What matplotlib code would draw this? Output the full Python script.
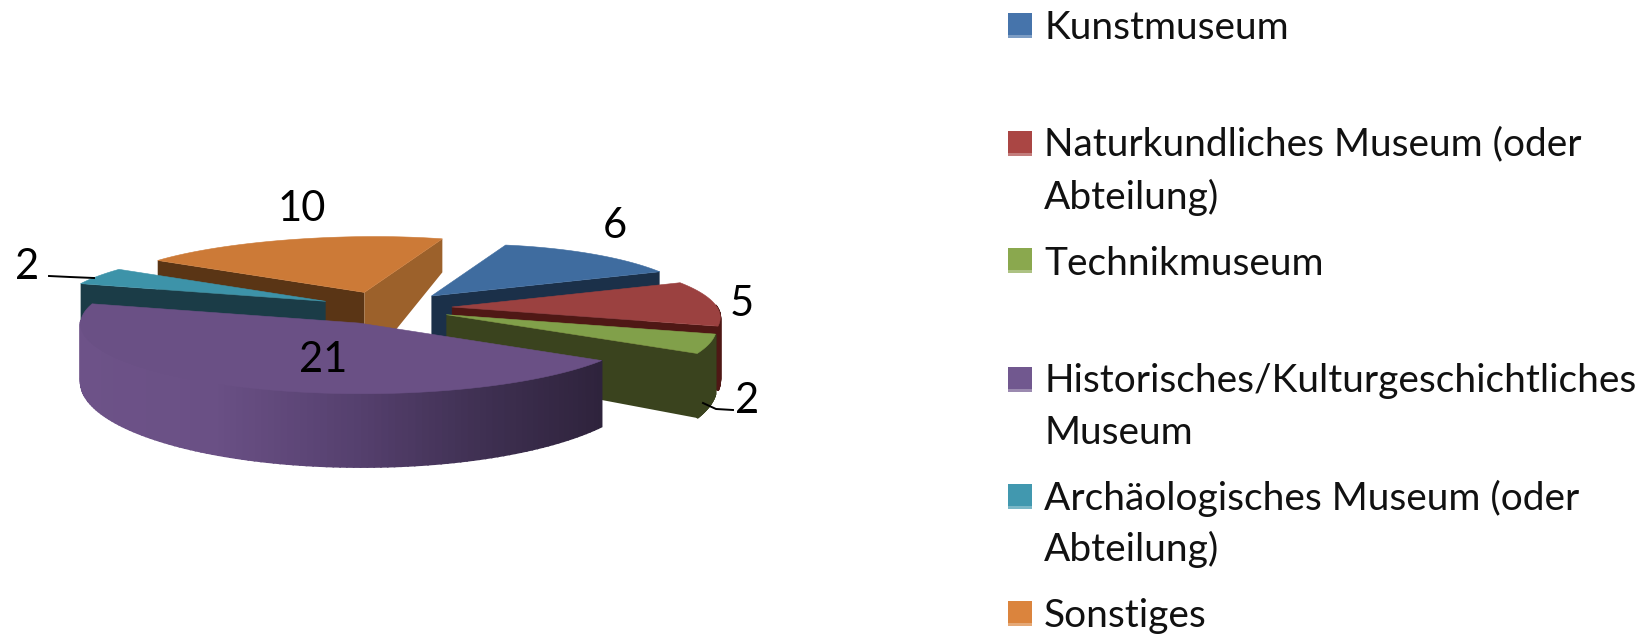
import numpy as np
import matplotlib
matplotlib.use("Agg")
import matplotlib.pyplot as plt
from matplotlib.colors import LinearSegmentedColormap
from matplotlib.patches import Polygon, Rectangle

plt.rcParams['font.family'] = ['Lato', 'DejaVu Sans']

categories = ["Kunstmuseum", "Naturkundliches Museum (oder\nAbteilung)", "Technikmuseum",
              "Historisches/Kulturgeschichtliches\nMuseum", "Archäologisches Museum (oder\nAbteilung)", "Sonstiges"]
values = [6, 5, 2, 21, 2, 10]

top_colors = ["#3f6c9f", "#9b4140", "#81a04a", "#6a5085", "#3d93a9", "#cc7a37"]
swatch_colors = ["#4674ab", "#aa4644", "#8aa84e", "#71588f", "#4198af", "#db843d"]
side_colors = ["#1b3049", "#4f1815", "#3a431e", "#2c2139", "#1b3c47", "#5a3515"]
end_face_colors = ["#1b3049", "#4f1815", "#3a431e", "#2c2139", "#1b3c47", "#9c612b"]

# pie geometry in pixels
W, H = 1643, 635
CX, CY = 386, 308
SQUASH = 0.25
EXPLODE = 66
START = 20
# perspective fake: each slice has its own radius at both ends and its own depth slope
radius_start = [217, 248, 280, 285, 255, 243]
radius_end = [248, 277, 295, 278, 243, 228]
radius_sag = [0, 0, 0, 0, 0, 12]
depth0 = [40, 46, 40, 40, 50, 36]
depth1 = [0.22, 0.22, 0.22, 0.22, 0.22, 0.8]
draw_order = [5, 0, 4, 1, 2, 3]

label_x = [615, 742, 747, 323, 27, 302]
label_y = [226, 304, 401, 360, 267, 209]

legend_swatch_y = [13, 131, 248, 367, 484, 601]
legend_line_y = [[28], [144, 197], [264], [381, 433], [498, 549], [616]]

fig = plt.figure(figsize=(W / 100, H / 100), dpi=100)
ax = fig.add_axes([0, 0, 1, 1])
ax.set_xlim(0, W)
ax.set_ylim(H, 0)
ax.axis("off")

purple_cmap = LinearSegmentedColormap.from_list("p", ["#6d5288", "#6a5085", "#574170", "#3f3052", "#2c2139"])

edges = START + np.cumsum([0] + values) * 360 / sum(values)


def wedge_point(i, t, apex, a0, a1):
    u = (t - a0) / (a1 - a0)
    r = radius_start[i] + (radius_end[i] - radius_start[i]) * u - radius_sag[i] * np.sin(np.pi * u)
    rad = np.radians(t)
    return np.array([apex[0] + r * np.sin(rad), apex[1] - SQUASH * r * np.cos(rad)])


def drop(i, p):
    return np.array([p[0], p[1] + depth0[i] + depth1[i] * (p[1] - 242)])


for i in draw_order:
    a0, a1 = edges[i], edges[i + 1]
    mid = np.radians((a0 + a1) / 2)
    apex = np.array([CX + EXPLODE * np.sin(mid), CY - SQUASH * EXPLODE * np.cos(mid)])
    angles = np.linspace(a0, a1, 120)
    rim = [wedge_point(i, t, apex, a0, a1) for t in angles]

    # radial faces that look at the viewer
    if np.sin(np.radians(a0)) < 0:
        ax.add_patch(Polygon([apex, rim[0], drop(i, rim[0]), drop(i, apex)], color=side_colors[i], lw=0))
    if np.sin(np.radians(a1)) > 0:
        ax.add_patch(Polygon([apex, rim[-1], drop(i, rim[-1]), drop(i, apex)], color=end_face_colors[i], lw=0))

    # outer wall, strip by strip
    for k in range(len(angles) - 1):
        if np.cos(np.radians(angles[k])) >= 0.03:
            continue
        p, q = rim[k], rim[k + 1]
        if i == 3:
            c = purple_cmap(1 - np.clip((620 - p[0]) / 540, 0, 1))
        else:
            c = side_colors[i]
        ax.add_patch(Polygon([p, q, drop(i, q), drop(i, p)], color=c, lw=1.2))

    ax.add_patch(Polygon([apex] + rim, color=top_colors[i], lw=0.4))

# leader lines of the two small slices
ax.plot([49, 70, 94], [276, 277, 278], color="black", lw=1.4)
ax.plot([703, 716, 733], [403, 409, 410], color="black", lw=1.4)

for i, v in enumerate(values):
    ax.text(label_x[i], label_y[i], str(v), fontsize=30, color="black", ha="center", va="center")

for i, name in enumerate(categories):
    ax.add_patch(Rectangle((1008, legend_swatch_y[i]), 24, 25, color=swatch_colors[i], lw=0))
    ax.add_patch(Rectangle((1008, legend_swatch_y[i] + 22), 24, 3, color="white", alpha=0.3, lw=0))
    for line, y in zip(name.split("\n"), legend_line_y[i]):
        ax.text(1044, y, line, fontsize=28, color="#111111", ha="left", va="center")

fig.savefig("out.png", dpi=100)
